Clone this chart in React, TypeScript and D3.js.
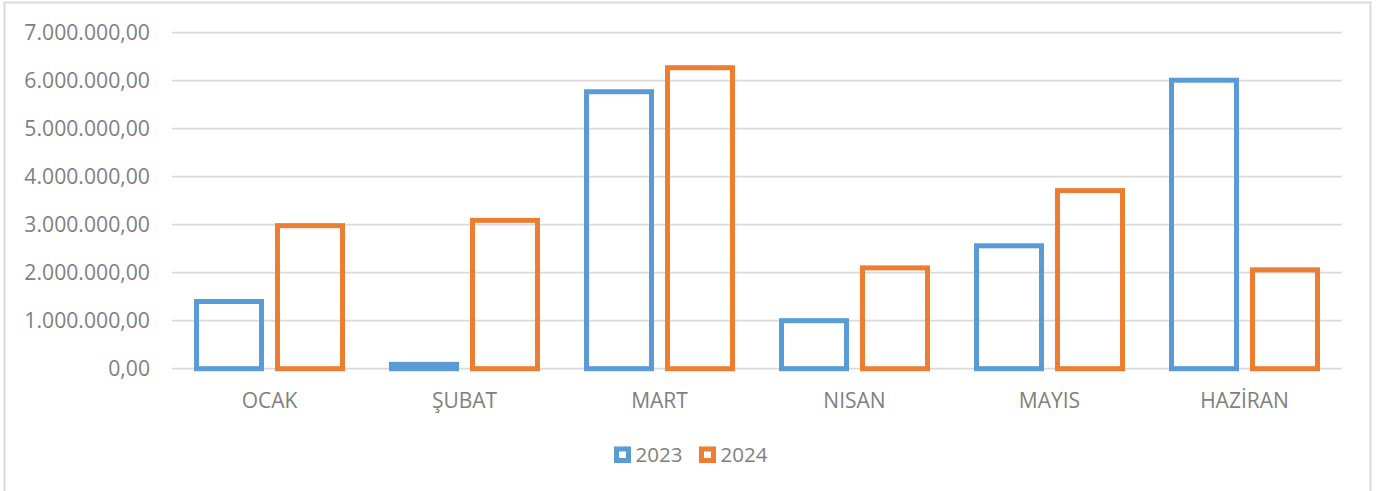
import React, { useEffect, useRef } from "react";
import * as d3 from "d3";

const months = ["OCAK", "ŞUBAT", "MART", "NISAN", "MAYIS", "HAZİRAN"];
const years = ["2023", "2024"];
const values2023 = [1400000, 90000, 5770000, 1000000, 2560000, 6010000];
const values2024 = [2980000, 3090000, 6270000, 2100000, 3710000, 2060000];
const yTicks = [0, 1000000, 2000000, 3000000, 4000000, 5000000, 6000000, 7000000];
const colors = ["#5b9bd5", "#ed7d31"];

const W = 1389;
const H = 491;

// Turkish style number: 7.000.000,00
const trFormat = d3.formatLocale({
  decimal: ",",
  thousands: ".",
  grouping: [3],
  currency: ["", ""],
}).format(",.2f");

function App() {
  const ref = useRef<SVGSVGElement>(null);

  useEffect(() => {
    const svg = d3.select(ref.current);
    svg.selectAll("*").remove();

    const font = "'Open Sans', sans-serif";
    const textColor = "#7f7f7f";

    // chart border
    svg.append("rect")
      .attr("x", 4.5).attr("y", 2.5)
      .attr("width", 1366).attr("height", 500)
      .attr("fill", "white")
      .attr("stroke", "#d9d9d9")
      .attr("stroke-width", 2);

    const x0 = d3.scaleBand().domain(months).range([172, 1342]).padding(0);
    const x1 = d3.scaleBand().domain(years).range([24.5, 170.5]).paddingInner(0.1975);
    const y = d3.scaleLinear().domain([0, 7000000]).range([368.7, 32.7]);

    // gridlines
    svg.append("g")
      .selectAll("line")
      .data(yTicks)
      .join("line")
      .attr("x1", 172).attr("x2", 1342)
      .attr("y1", d => y(d)).attr("y2", d => y(d))
      .attr("stroke", "#d9d9d9")
      .attr("stroke-width", 1.8);

    // y labels
    svg.append("g")
      .selectAll("text")
      .data(yTicks)
      .join("text")
      .attr("x", 150)
      .attr("y", d => y(d))
      .attr("dy", "0.36em")
      .attr("text-anchor", "end")
      .attr("font-family", font)
      .attr("font-size", 21.2)
      .attr("fill", textColor)
      .text(d => trFormat(d));

    // bars
    const series = [values2023, values2024];
    series.forEach((vals, si) => {
      svg.append("g")
        .selectAll("rect")
        .data(vals)
        .join("rect")
        .attr("x", (d, i) => (x0(months[i]) as number) + (x1(years[si]) as number))
        .attr("y", d => y(d))
        .attr("width", x1.bandwidth())
        .attr("height", d => y(0) - y(d))
        .attr("fill", "none")
        .attr("stroke", colors[si])
        .attr("stroke-width", 5);
    });

    // x labels
    svg.append("g")
      .selectAll("text")
      .data(months)
      .join("text")
      .attr("x", d => (x0(d) as number) + x0.bandwidth() / 2)
      .attr("y", 407.5)
      .attr("text-anchor", "middle")
      .attr("font-family", font)
      .attr("font-size", 21)
      .attr("fill", textColor)
      .text(d => d);

    // legend
    const legendX = [614, 699];
    years.forEach((yr, i) => {
      const g = svg.append("g").attr("transform", `translate(${legendX[i]},446.5)`);
      g.append("rect")
        .attr("x", 2.5).attr("y", 2.5)
        .attr("width", 12).attr("height", 11.5)
        .attr("fill", "white")
        .attr("stroke", colors[i])
        .attr("stroke-width", 5);
      g.append("text")
        .attr("x", 21.5)
        .attr("y", 15.5)
        .attr("font-family", font)
        .attr("font-size", 20.5)
        .attr("fill", textColor)
        .text(yr);
    });
  }, []);

  return (
    <svg
      ref={ref}
      width={W}
      height={H}
      style={{ position: "absolute", left: 0, top: 0, background: "white" }}
    ></svg>
  );
}

export default App;
